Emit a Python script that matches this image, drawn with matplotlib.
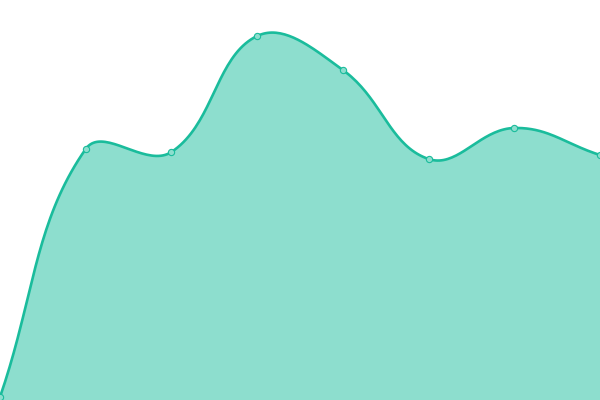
import numpy as np
import matplotlib
matplotlib.use("Agg")
import matplotlib.pyplot as plt

labels = ["A", "B", "C", "D", "E", "F", "G", "H"]
values = [0.75, 62.75, 62, 91, 82.5, 60.25, 68, 61.25]

line_color = "#1abc9c"
fill_color = "#8ddece"

W, H = 600, 400
ymax = 100


def spline(xs, ys, tension=0.4, steps=40):
    # chart.js-like spline, computed in pixel space
    px = np.array(xs) * W / (len(xs) - 1)
    py = H - np.array(ys) * H / ymax
    n = len(px)
    cps = []
    for i in range(n):
        p0 = (px[max(i - 1, 0)], py[max(i - 1, 0)])
        p1 = (px[i], py[i])
        p2 = (px[min(i + 1, n - 1)], py[min(i + 1, n - 1)])
        d01 = np.hypot(p1[0] - p0[0], p1[1] - p0[1])
        d12 = np.hypot(p2[0] - p1[0], p2[1] - p1[1])
        tot = d01 + d12
        s01 = d01 / tot if tot else 0
        s12 = d12 / tot if tot else 0
        fa, fb = tension * s01, tension * s12
        prev = (p1[0] - fa * (p2[0] - p0[0]), p1[1] - fa * (p2[1] - p0[1]))
        nxt = (p1[0] + fb * (p2[0] - p0[0]), p1[1] + fb * (p2[1] - p0[1]))
        cps.append((prev, nxt))
    outx, outy = [px[0]], [py[0]]
    t = np.linspace(0, 1, steps)[1:]
    for i in range(n - 1):
        a = (px[i], py[i])
        b = cps[i][1]
        c = cps[i + 1][0]
        d = (px[i + 1], py[i + 1])
        bx = (1 - t) ** 3 * a[0] + 3 * t * (1 - t) ** 2 * b[0] + 3 * t ** 2 * (1 - t) * c[0] + t ** 3 * d[0]
        by = (1 - t) ** 3 * a[1] + 3 * t * (1 - t) ** 2 * b[1] + 3 * t ** 2 * (1 - t) * c[1] + t ** 3 * d[1]
        outx.extend(bx)
        outy.extend(by)
    outx = np.array(outx) * (len(xs) - 1) / W
    outy = (H - np.array(outy)) * ymax / H
    return outx, outy


x = np.arange(len(labels))
cx, cy = spline(x, values)

fig = plt.figure(figsize=(6, 4), dpi=100)
ax = fig.add_axes([0, 0, 1, 1])
ax.fill_between(cx, cy, 0, color=fill_color, lw=0)
ax.plot(cx, cy, color=line_color, lw=1.9, solid_capstyle="round")
ax.plot(x, values, "o", ms=4.5, mfc=fill_color, mec=line_color, mew=0.8)
ax.set_xlim(0, len(labels) - 1)
ax.set_ylim(0, ymax)
ax.axis("off")

fig.savefig("out.png", dpi=100)
